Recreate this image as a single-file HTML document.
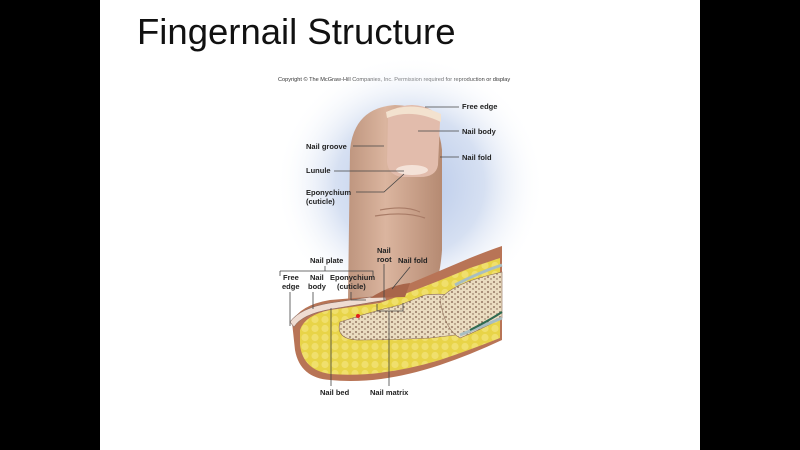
<!DOCTYPE html>
<html><head><meta charset="utf-8"><style>
html,body{margin:0;padding:0;background:#000;}
#s{position:absolute;left:100px;top:0;width:600px;height:450px;background:#fff;overflow:hidden}
svg{position:absolute;left:0;top:0}
</style></head><body>
<div id="s"></div>
<svg width="800" height="450" viewBox="0 0 800 450" font-family="Liberation Sans, Arial, sans-serif">
<defs>
<radialGradient id="glow" cx="0.5" cy="0.5" r="0.5">
<stop offset="0" stop-color="#b4c6e8"/><stop offset="0.55" stop-color="#d6e0f2"/><stop offset="1" stop-color="#ffffff" stop-opacity="0"/>
</radialGradient>
<linearGradient id="fin" x1="0" x2="1"><stop offset="0" stop-color="#be957e"/><stop offset="0.4" stop-color="#dbb59f"/><stop offset="1" stop-color="#b58a72"/></linearGradient>
<pattern id="dots" width="6" height="5" patternUnits="userSpaceOnUse"><rect width="6" height="5" fill="#eadcc0"/><circle cx="2" cy="2" r="0.9" fill="#7a5a48"/><circle cx="5" cy="4" r="0.7" fill="#7a5a48"/></pattern>
<pattern id="fat" width="10" height="9" patternUnits="userSpaceOnUse"><rect width="10" height="9" fill="#e8d448"/><circle cx="5" cy="4.5" r="3.6" fill="#f0df6c"/></pattern>
</defs>
<text x="137" y="44" font-size="36.5" fill="#111">Fingernail Structure</text>
<text x="278" y="81" font-size="5.6" fill="#333">Copyright © The McGraw-Hill Companies, Inc. Permission required for reproduction or display</text>
<ellipse cx="410" cy="185" rx="135" ry="130" fill="url(#glow)"/>
<!-- finger -->
<path d="M348 300 L350 150 Q354 108 395 105 Q438 106 442 150 L442 250 Q440 280 430 300 Z" fill="url(#fin)"/>
<path d="M388 118 Q390 106 412 105 Q436 106 440 122 L438 165 Q436 177 420 177 L402 177 Q388 175 387 162 Z" fill="#e2bcac"/>
<path d="M386 112 Q412 100 441 114 L441 122 Q412 108 387 118Z" fill="#f3e2cf"/>
<ellipse cx="412" cy="170" rx="16" ry="5" fill="#f4e2d8"/>
<path d="M380 210 Q405 205 420 212 M375 216 Q405 211 425 218" stroke="#a87b66" stroke-width="1.2" fill="none"/>
<!-- cross section -->
<path d="M292 322 Q300 305 330 300 L380 296 Q430 275 470 258 Q490 250 502 246 L502 340 Q470 355 440 365 Q380 385 330 380 Q300 378 295 350 Z" fill="#b87456"/>
<path d="M300 330 Q305 315 330 310 L380 303 Q430 285 470 268 L500 258 L500 338 Q470 350 440 360 Q380 378 330 374 Q303 370 300 345 Z" fill="url(#fat)"/>
<path d="M340 322 Q370 312 400 305 L425 295 Q450 292 465 300 Q470 320 455 335 L430 338 Q390 340 360 340 Q335 340 340 322Z" fill="url(#dots)" stroke="#8a6a55" stroke-width="0.6"/>
<path d="M440 300 Q450 285 490 275 L502 272 L502 318 Q480 330 460 338 Q445 330 440 300Z" fill="url(#dots)" stroke="#8a6a55" stroke-width="0.6"/>
<path d="M455 285 Q480 272 502 265 M460 335 Q485 325 502 318" stroke="#a8bec2" stroke-width="3" fill="none"/>
<path d="M470 330 Q490 320 502 312" stroke="#2f6a50" stroke-width="2" fill="none"/>
<!-- nail plate -->
<path d="M290 322 Q300 308 330 303 L385 295 L386 300 L332 309 Q302 314 294 327 Z" fill="#efdcd2" stroke="#8a6a60" stroke-width="0.6"/>
<path d="M370 298 Q390 285 410 283 L405 297 Z" fill="#a8654a"/>
<circle cx="358" cy="316" r="2" fill="#e02020"/>
<g font-size="7.5" font-weight="bold" fill="#222">
<text x="462" y="109">Free edge</text>
<text x="462" y="134">Nail body</text>
<text x="462" y="160">Nail fold</text>
<text x="306" y="149">Nail groove</text>
<text x="306" y="173">Lunule</text>
<text x="306" y="195">Eponychium</text>
<text x="306" y="204">(cuticle)</text>
<text x="310" y="263">Nail plate</text>
<text x="283" y="280">Free</text><text x="282" y="289">edge</text>
<text x="310" y="280">Nail</text><text x="308" y="289">body</text>
<text x="330" y="280">Eponychium</text><text x="337" y="289">(cuticle)</text>
<text x="377" y="253">Nail</text><text x="377" y="262">root</text>
<text x="398" y="263">Nail fold</text>
<text x="320" y="395">Nail bed</text>
<text x="370" y="395">Nail matrix</text>
</g>
<g stroke="#444" stroke-width="0.8" fill="none">
<path d="M425 107 H459 M418 131 H459 M440 157 H459 M353 146 H384 M334 171 H404 M356 192 H384 L404 174"/>
<path d="M280 271 V276 M280 271 H373 V276 M325 266 V271"/>
<path d="M290 292 V326 M313 292 V309 M351 292 V300 H366"/>
<path d="M384 264 V300 M410 267 L392 289"/>
<path d="M377 304 V311 H403 V303 M389 311 V386 M331 308 V386"/>
</g>
</svg>
</body></html>
